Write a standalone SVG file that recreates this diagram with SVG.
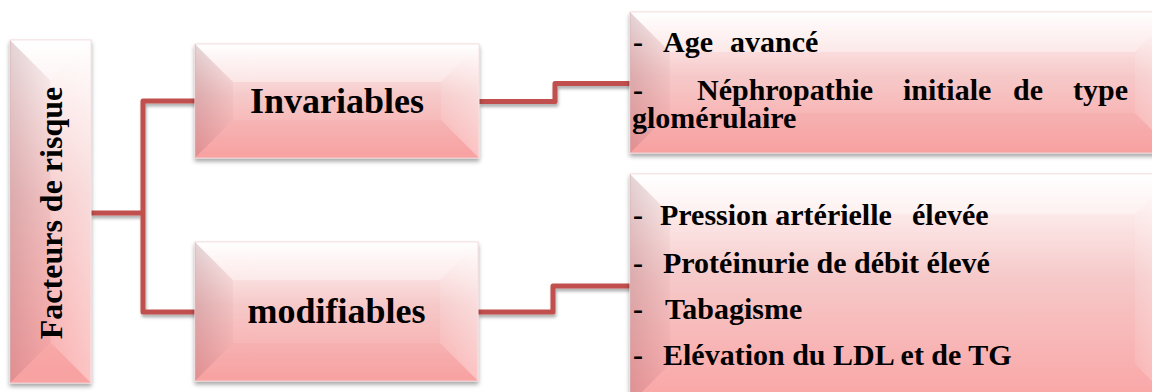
<svg xmlns="http://www.w3.org/2000/svg" width="1152" height="392" viewBox="0 0 1152 392">
  <defs>
    <linearGradient id="face" x1="0" y1="0" x2="0" y2="1">
      <stop offset="0" stop-color="#FFFFFF"/>
      <stop offset="0.2" stop-color="#FCE6E6"/>
      <stop offset="0.45" stop-color="#F6C9C9"/>
      <stop offset="1" stop-color="#FAA4A4"/>
    </linearGradient>
    <linearGradient id="leftEdge" x1="0" y1="0" x2="1" y2="0">
      <stop offset="0" stop-color="#8C4A52" stop-opacity="0.24"/>
      <stop offset="1" stop-color="#8C4A52" stop-opacity="0.05"/>
    </linearGradient>
    <linearGradient id="rightEdge" x1="0" y1="0" x2="1" y2="0">
      <stop offset="0" stop-color="#FFFFFF" stop-opacity="0.1"/>
      <stop offset="1" stop-color="#FFFFFF" stop-opacity="0.35"/>
    </linearGradient>
    <filter id="shadow" x="-10%" y="-10%" width="120%" height="130%">
      <feDropShadow dx="0" dy="3" stdDeviation="2" flood-color="#000" flood-opacity="0.35"/>
    </filter>
    <filter id="lshadow" x="-10%" y="-10%" width="120%" height="130%">
      <feDropShadow dx="1" dy="3" stdDeviation="1.5" flood-color="#000" flood-opacity="0.3"/>
    </filter>
  </defs>
  <style>
    .face { fill: url(#face); stroke: #F2D6D8; stroke-width: 1; }
    .bl { fill: url(#leftEdge); }
    .br { fill: url(#rightEdge); }
    .bt { fill: #FFFFFF; fill-opacity: 0.35; }
    .bb { fill: #F08C8C; fill-opacity: 0.12; }
    .conn { fill: none; stroke: #C0504D; stroke-width: 5; stroke-linejoin: round; }
    .s { font-family: "Liberation Serif", "Times New Roman", serif; font-weight: 700; fill: #000; }
  </style>

  <g id="connectors" filter="url(#lshadow)">
    <path class="conn" d="M91,213 H143"/>
    <path class="conn" d="M196,101 H143 V312 H196"/>
    <path class="conn" d="M479,101.5 H555 V83.5 H631"/>
    <path class="conn" d="M478,312 H553 V286 H631"/>
  </g>

  <g id="node-facteurs">
    <g filter="url(#shadow)">
      <rect class="face" x="10" y="40" width="81" height="343"/>
    </g>
    <polygon class="bl" points="10,40 50.5,80.5 50.5,342.5 10,383"/>
    <polygon class="br" points="91,40 50.5,80.5 50.5,342.5 91,383"/>
    <polygon class="bt" points="10,40 91,40 50.5,80.5"/>
    <polygon class="bb" points="10,383 91,383 50.5,342.5"/>
    <text class="s" font-size="32" text-anchor="middle" transform="translate(62,213) rotate(-90)">Facteurs de risque</text>
  </g>

  <g id="node-invariables">
    <g filter="url(#shadow)">
      <rect class="face" x="195" y="44" width="284" height="114"/>
    </g>
    <polygon class="bl" points="195,44 233,82 233,120 195,158"/>
    <polygon class="br" points="479,44 441,82 441,120 479,158"/>
    <polygon class="bt" points="195,44 479,44 441,82 233,82"/>
    <polygon class="bb" points="195,158 479,158 441,120 233,120"/>
    <text class="s" font-size="36" x="337" y="113" text-anchor="middle">Invariables</text>
  </g>

  <g id="node-modifiables">
    <g filter="url(#shadow)">
      <rect class="face" x="195" y="242" width="283" height="139"/>
    </g>
    <polygon class="bl" points="195,242 233,280 233,343 195,381"/>
    <polygon class="br" points="478,242 440,280 440,343 478,381"/>
    <polygon class="bt" points="195,242 478,242 440,280 233,280"/>
    <polygon class="bb" points="195,381 478,381 440,343 233,343"/>
    <text class="s" font-size="36" x="336.5" y="323" text-anchor="middle">modifiables</text>
  </g>

  <g id="node-invariables-list">
    <g filter="url(#shadow)">
      <rect class="face" x="630" y="12" width="545" height="141"/>
    </g>
    <polygon class="bl" points="630,12 670,52 670,113 630,153"/>
    <polygon class="br" points="1175,12 1135,52 1135,113 1175,153"/>
    <polygon class="bt" points="630,12 1175,12 1135,52 670,52"/>
    <polygon class="bb" points="630,153 1175,153 1135,113 670,113"/>
    <text class="s" font-size="30" x="633" y="52">-</text>
    <text class="s" font-size="30" x="663" y="52">Age</text>
    <text class="s" font-size="30" x="730" y="52">avancé</text>
    <text class="s" font-size="30" x="633" y="100">-</text>
    <text class="s" font-size="30" x="697" y="100">Néphropathie</text>
    <text class="s" font-size="30" x="903" y="100">initiale</text>
    <text class="s" font-size="30" x="1013" y="100">de</text>
    <text class="s" font-size="30" x="1073" y="100">type</text>
    <text class="s" font-size="30" x="632" y="128">glomérulaire</text>
  </g>

  <g id="node-modifiables-list">
    <g filter="url(#shadow)">
      <rect class="face" x="630" y="174" width="545" height="230"/>
    </g>
    <polygon class="bl" points="630,174 670,214 670,364 630,404"/>
    <polygon class="br" points="1175,174 1135,214 1135,364 1175,404"/>
    <polygon class="bt" points="630,174 1175,174 1135,214 670,214"/>
    <text class="s" font-size="30" x="633" y="225">-</text>
    <text class="s" font-size="30" x="660" y="225">Pression artérielle</text>
    <text class="s" font-size="30" x="912" y="225">élevée</text>
    <text class="s" font-size="30" x="633" y="273">-</text>
    <text class="s" font-size="30" x="663" y="273">Protéinurie de débit élevé</text>
    <text class="s" font-size="30" x="633" y="319">-</text>
    <text class="s" font-size="30" x="665" y="319">Tabagisme</text>
    <text class="s" font-size="30" x="633" y="365">-</text>
    <text class="s" font-size="30" x="663" y="365">Elévation du LDL et de TG</text>
  </g>
</svg>
